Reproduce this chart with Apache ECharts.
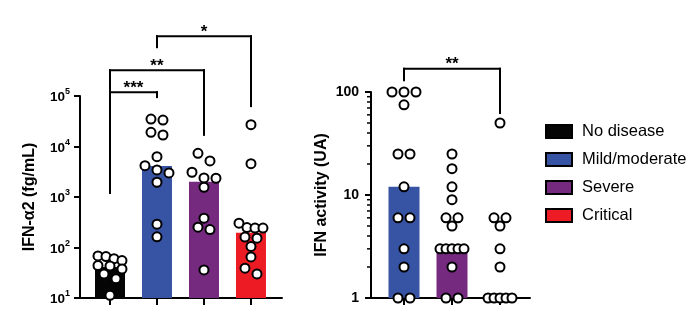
<!DOCTYPE html>
<html>
<head>
<meta charset="utf-8">
<script src="https://cdn.jsdelivr.net/npm/echarts@6/dist/echarts.min.js"></script>
<style>
html,body{margin:0;padding:0;background:#fff;}
#chart{width:697px;height:322px;}
</style>
</head>
<body>
<div id="chart"></div>
<script>
// ---------------- data ----------------
const categories = ['No disease', 'Mild/moderate', 'Severe', 'Critical'];
// IFN-alpha2 (fg/mL): bar heights (median) and individual points
const ifnA2Bars = [41, 4100, 2000, 195];
const ifnA2NoDisease = [68, 66, 60, 55, 44, 43, 37.5, 30, 24, 11.3];
const ifnA2Mild = [34900, 33400, 19100, 16900, 6280, 4180, 3430, 3000, 1960, 290, 163];
const ifnA2Severe = [7340, 5170, 3090, 2380, 2350, 1560, 381, 253, 227, 36];
const ifnA2Critical = [27000, 4570, 303, 248, 242, 242, 161, 153, 105, 65, 39, 30];
const ifnA2TickExponents = [1, 2, 3, 4, 5];
// IFN activity (UA)
const activityCategories = ['Mild/moderate', 'Severe', 'Critical'];
const activityBars = [12, 3, 1];
const actMild = [100, 100, 100, 75, 25, 25, 12, 6, 6, 3, 2, 1, 1];
const actSevere = [25, 18, 12, 9, 6, 6, 5, 3, 3, 3, 3, 3, 2, 1, 1];
const actCritical = [50, 6, 6, 5, 3, 2, 1, 1, 1, 1, 1];
const activityTicks = [1, 10, 100];
// significance brackets (category indices, values on the log axis)
const ifnA2Brackets = [
  { from: 0, to: 1, top: 1.19e5, leftEnd: 1200, rightEnd: 9.5e4, label: '***' },
  { from: 0, to: 2, top: 3.25e5, leftEnd: 1200, rightEnd: 1.7e4, label: '**' },
  { from: 1, to: 3, top: 1.53e6, leftEnd: 9.25e5, rightEnd: 6.3e4, label: '*' }
];
const activityBrackets = [
  { from: 0, to: 2, top: 168, leftEnd: 130, rightEnd: 62.5, label: '**' }
];

// ---------------- styles ----------------
const FONT = "'Liberation Sans', Arial, Helvetica, sans-serif";
const barColors = { 'No disease': '#050505', 'Mild/moderate': '#3753A3', 'Severe': '#75297F', 'Critical': '#ED1C24' };

const chart = echarts.init(document.getElementById('chart'), null, { renderer: 'canvas' });

const ifnA2Points = [ifnA2NoDisease, ifnA2Mild, ifnA2Severe, ifnA2Critical];
const actPoints = [actMild, actSevere, actCritical];

// minor ticks between activity decades
const activityMinor = [];
for (let d = 0; d < activityTicks.length - 1; d++) {
  for (let k = 2; k <= 9; k++) activityMinor.push(k * activityTicks[d]);
}

function seg(a, b) {
  return { type: 'line', shape: { x1: a[0], y1: a[1], x2: b[0], y2: b[1] },
           style: { stroke: '#000', lineWidth: 2, lineCap: 'square' } };
}

function bracketSeries(list, xi, yi) {
  return {
    type: 'custom', xAxisIndex: xi, yAxisIndex: yi, clip: false, silent: true, z: 5,
    data: list.map(b => [b.from, b.to, b.top]),
    encode: { x: [0, 1], y: 2 },
    renderItem: function (params, api) {
      const b = list[params.dataIndex];
      const p1 = api.coord([b.from, b.leftEnd]).slice();
      const p2 = api.coord([b.from, b.top]).slice();
      const p3 = api.coord([b.to, b.top]).slice();
      const p4 = api.coord([b.to, b.rightEnd]).slice();
      return {
        type: 'group',
        children: [
          seg(p1, p2), seg(p2, p3), seg(p3, p4),
          { type: 'text', x: (p2[0] + p3[0]) / 2, y: p2[1] - 4,
            style: { text: b.label, fontFamily: FONT, fontWeight: 'bold', fontSize: 17,
                     fill: '#000', align: 'center', verticalAlign: 'middle' } }
        ]
      };
    }
  };
}

function xTickSeries(n, yMin, xi, yi) {
  const d = [];
  for (let i = 0; i < n; i++) d.push([i, yMin]);
  return {
    type: 'custom', xAxisIndex: xi, yAxisIndex: yi, clip: false, silent: true, z: 1,
    data: d, encode: { x: 0, y: 1 },
    renderItem: function (params, api) {
      const p = api.coord([api.value(0), api.value(1)]);
      return { type: 'line', shape: { x1: p[0], y1: p[1], x2: p[0], y2: p[1] + 7 },
               style: { stroke: '#000', lineWidth: 2 } };
    }
  };
}

function minorTickSeries(vals, xi, yi) {
  return {
    type: 'custom', xAxisIndex: xi, yAxisIndex: yi, clip: false, silent: true, z: 1,
    data: vals.map(v => [0, v]), encode: { x: 0, y: 1 },
    renderItem: function (params, api) {
      const p = api.coord([0, api.value(1)]);
      const x0 = params.coordSys.x;
      return { type: 'line', shape: { x1: x0 - 4, y1: p[1], x2: x0, y2: p[1] },
               style: { stroke: '#000', lineWidth: 1.5 } };
    }
  };
}

const axisLineStyle = { onZero: false, lineStyle: { color: '#000', width: 2 } };

function buildOption(scLeft, scRight) {
  const series = [];
  categories.forEach((c, i) => {
    series.push({
      name: c, type: 'bar', xAxisIndex: 0, yAxisIndex: 0, barWidth: 30, barGap: '-100%',
      itemStyle: { color: barColors[c] }, data: [[i, ifnA2Bars[i]]], silent: true, z: 2
    });
  });
  activityCategories.forEach((c, i) => {
    series.push({
      name: c, type: 'bar', xAxisIndex: 1, yAxisIndex: 1, barWidth: 31, barGap: '-100%',
      itemStyle: { color: barColors[c] }, data: [[i, activityBars[i]]], silent: true, z: 2
    });
  });
  const pointStyle = { color: '#fff', borderColor: '#000', borderWidth: 2, opacity: 1 };
  series.push({ type: 'scatter', xAxisIndex: 0, yAxisIndex: 0, symbol: 'circle', symbolSize: 9,
                itemStyle: pointStyle, data: scLeft, clip: false, z: 4, silent: true });
  series.push({ type: 'scatter', xAxisIndex: 1, yAxisIndex: 1, symbol: 'circle', symbolSize: 9,
                itemStyle: pointStyle, data: scRight, clip: false, z: 4, silent: true });
  series.push(bracketSeries(ifnA2Brackets, 0, 0));
  series.push(bracketSeries(activityBrackets, 1, 1));
  series.push(xTickSeries(categories.length, 10, 0, 0));
  series.push(xTickSeries(activityCategories.length, 1, 1, 1));
  series.push(minorTickSeries(activityMinor, 1, 1));

  return {
    animation: false,
    backgroundColor: '#fff',
    textStyle: { fontFamily: FONT, color: '#000' },
    grid: [
      { left: 80, top: 96, width: 202, height: 202, containLabel: false },
      { left: 371, top: 92, width: 159, height: 206, containLabel: false }
    ],
    xAxis: [
      { type: 'value', gridIndex: 0, min: -0.638, max: 3.66, axisLine: axisLineStyle,
        axisTick: { show: false }, axisLabel: { show: false }, splitLine: { show: false } },
      { type: 'value', gridIndex: 1, min: -0.6875, max: 2.625, axisLine: axisLineStyle,
        axisTick: { show: false }, axisLabel: { show: false }, splitLine: { show: false } }
    ],
    yAxis: [
      { type: 'log', logBase: 10, gridIndex: 0,
        min: Math.pow(10, ifnA2TickExponents[0]), max: Math.pow(10, ifnA2TickExponents[ifnA2TickExponents.length - 1]),
        axisLine: Object.assign({ show: true }, axisLineStyle),
        axisTick: { show: true, length: 6, lineStyle: { color: '#000', width: 2 } },
        splitLine: { show: false },
        axisLabel: {
          margin: 10,
          formatter: function (v) { return '{b|10}{s|' + Math.round(Math.log10(v)) + '}'; },
          rich: {
            b: { fontSize: 13.5, fontWeight: 'bold', fontFamily: FONT, color: '#000', lineHeight: 17, verticalAlign: 'bottom' },
            s: { fontSize: 9, fontWeight: 'bold', fontFamily: FONT, color: '#000', lineHeight: 9, verticalAlign: 'top' }
          }
        },
        name: 'IFN-α2 (fg/mL)', nameLocation: 'middle', nameGap: 42, nameRotate: 90,
        nameTextStyle: { fontSize: 16, fontWeight: 'bold', fontFamily: FONT, color: '#000' }
      },
      { type: 'log', logBase: 10, gridIndex: 1,
        min: activityTicks[0], max: activityTicks[activityTicks.length - 1],
        axisLine: Object.assign({ show: true }, axisLineStyle),
        axisTick: { show: true, length: 6, lineStyle: { color: '#000', width: 2 } },
        splitLine: { show: false },
        axisLabel: { margin: 12, fontSize: 14, fontWeight: 'bold', color: '#000', fontFamily: FONT },
        name: 'IFN activity (UA)', nameLocation: 'middle', nameGap: 41, nameRotate: 90,
        nameTextStyle: { fontSize: 16, fontWeight: 'bold', fontFamily: FONT, color: '#000' }
      }
    ],
    legend: {
      data: categories, orient: 'vertical', left: 545, top: 123, padding: 0, icon: 'rect',
      itemWidth: 26, itemHeight: 13, itemGap: 11, selectedMode: false,
      itemStyle: { borderColor: '#000', borderWidth: 2 },
      formatter: function (name) { return '{t|' + name + '}'; },
      textStyle: { rich: { t: { fontSize: 16.5, fontFamily: FONT, color: '#000', padding: [0, 0, 0, 5] } } }
    },
    series: series
  };
}

// first pass: axes only, to measure pixel positions
chart.setOption(buildOption([], []));

// arrange points of each group in rows (dot-plot layout), computed in pixel space
function arrange(values, catIdx, gridIndex) {
  const finder = { gridIndex: gridIndex };
  const ys = values.map(v => chart.convertToPixel(finder, [catIdx, v])[1]);
  const unit = chart.convertToPixel(finder, [catIdx + 1, values[0]])[0] -
               chart.convertToPixel(finder, [catIdx, values[0]])[0];
  const order = values.map((v, i) => i).sort((a, b) => ys[a] - ys[b] || values[b] - values[a]);
  const rows = [];
  let cur = null;
  order.forEach(i => {
    if (!cur || ys[i] - cur.start >= 7.8) { cur = { start: ys[i], idx: [] }; rows.push(cur); }
    cur.idx.push(i);
  });
  const out = [];
  rows.forEach(r => {
    const n = r.idx.length;
    const sp = n > 1 ? Math.min(12, 24 / (n - 1)) : 0;
    r.idx.forEach((i, k) => {
      const off = (k - (n - 1) / 2) * sp;
      out.push([catIdx + off / unit, values[i]]);
    });
  });
  return out;
}

let scLeft = [];
ifnA2Points.forEach((vals, i) => { scLeft = scLeft.concat(arrange(vals, i, 0)); });
let scRight = [];
actPoints.forEach((vals, i) => { scRight = scRight.concat(arrange(vals, i, 1)); });

chart.setOption(buildOption(scLeft, scRight));
</script>
</body>
</html>
